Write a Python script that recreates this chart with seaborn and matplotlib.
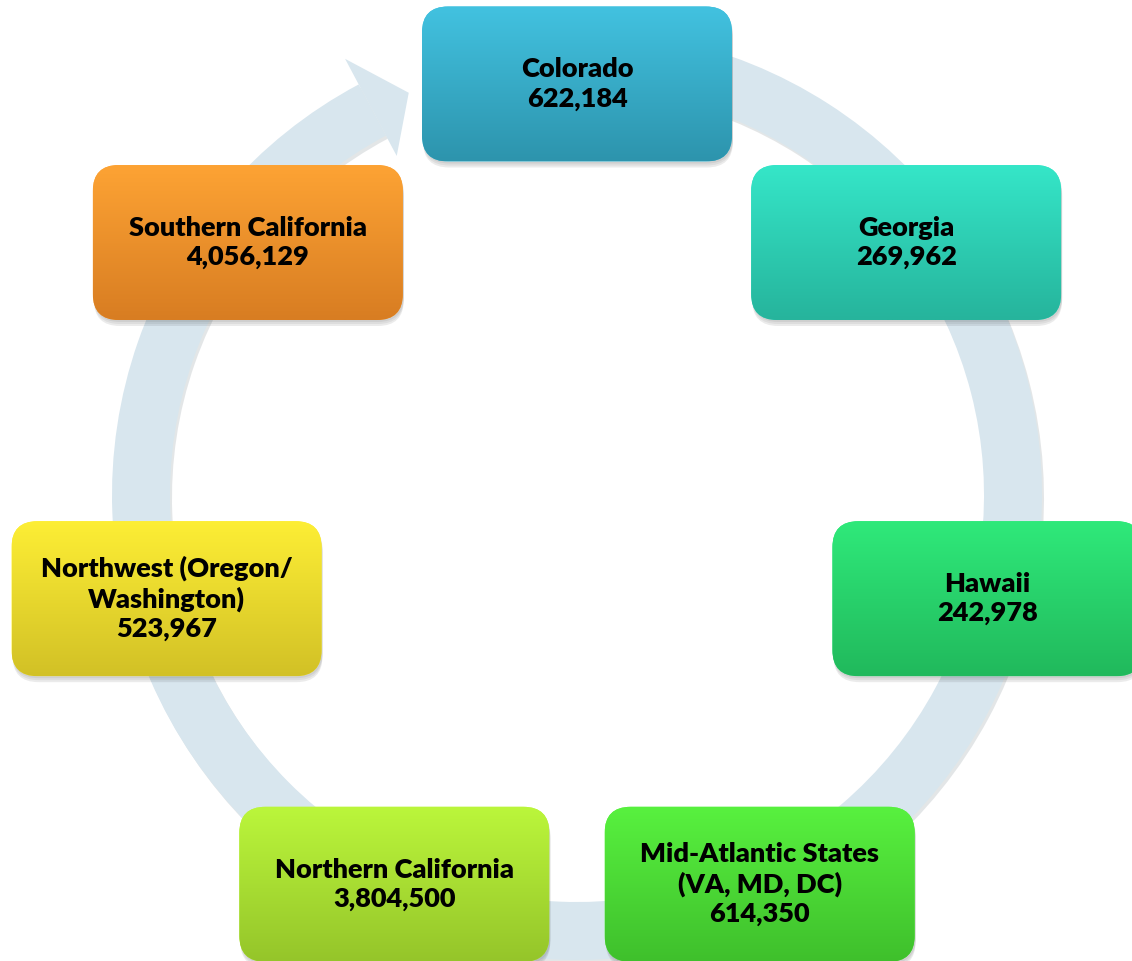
import numpy as np
import matplotlib
matplotlib.use("Agg")
import matplotlib.pyplot as plt
import seaborn as sns
from matplotlib.patches import FancyBboxPatch, Wedge, Polygon
from matplotlib.colors import LinearSegmentedColormap

# cycle nodes, clockwise starting at the top
regions = ["Colorado", "Georgia", "Hawaii", "Mid-Atlantic States\n(VA, MD, DC)",
           "Northern California", "Northwest (Oregon/\nWashington)", "Southern California"]
members = [622184, 269962, 242978, 614350, 3804500, 523967, 4056129]
top_colors = ["#42c2e0", "#35e6c8", "#2fe97a", "#58f13f", "#bbf63b", "#fdee35", "#fda334"]
bottom_colors = ["#2d94ad", "#26b49c", "#21b95c", "#3fc02c", "#95c52a", "#d2c126", "#d87d22"]

sns.set_theme(style="white")
plt.rcParams['font.family'] = ['Lato', 'DejaVu Sans']

W, H = 1132, 961
fig = plt.figure(figsize=(W / 100, H / 100), dpi=100)
ax = fig.add_axes([0, 0, 1, 1])

# background ring with arrow head
ring_c = (577, H - 495)
r_out, r_w = 465, 58
ring_col = "#d8e6ee"


def polar(r, a):
    return (ring_c[0] + r * np.cos(np.radians(a)), ring_c[1] + r * np.sin(np.radians(a)))


ax.add_patch(Wedge((ring_c[0] + 2, ring_c[1] - 3), r_out, 118, 460, width=r_w,
                   facecolor="#b0b8bd", alpha=0.35, edgecolor="none", zorder=1))
ax.add_patch(Wedge(ring_c, r_out, 118, 460, width=r_w, facecolor=ring_col, edgecolor="none", zorder=1.5))
head = [polar(494, 118), polar(436, 112.7), polar(384, 118)]
ax.add_patch(Polygon(head, closed=True, facecolor=ring_col, edgecolor="none", zorder=1.5))

# nodes
node_c = (577, H - 505)
node_r = 421
bw, bh, rs = 310, 155, 26
grad = np.linspace(0, 1, 128)[:, None]

for i, (name, val) in enumerate(zip(regions, members)):
    ang = np.radians(90 - i * 360 / 7)
    x = node_c[0] + node_r * np.cos(ang)
    y = node_c[1] + node_r * np.sin(ang)
    x0, y0 = x - bw / 2, y - bh / 2
    # soft shadow
    for k, a in enumerate([0.06, 0.06, 0.08]):
        ax.add_patch(FancyBboxPatch((x0 + 1, y0 - 2 - k * 2), bw, bh,
                                    boxstyle=f"round,pad=0,rounding_size={rs}",
                                    facecolor="black", alpha=a, edgecolor="none", zorder=2))
    box = FancyBboxPatch((x0, y0), bw, bh, boxstyle=f"round,pad=0,rounding_size={rs}",
                         facecolor=top_colors[i], edgecolor="none", zorder=3)
    ax.add_patch(box)
    cmap = LinearSegmentedColormap.from_list(f"g{i}", [bottom_colors[i], top_colors[i]])
    im = ax.imshow(grad, extent=(x0, x0 + bw, y0, y0 + bh), origin="lower", cmap=cmap,
                   aspect="auto", zorder=3.5, interpolation="bilinear")
    im.set_clip_path(box)
    ax.text(x, y, f"{name}\n{val:,}", ha="center", va="center", fontsize=19.5,
            fontweight="heavy", color="black", linespacing=1.25, zorder=4)

ax.set_xlim(0, W)
ax.set_ylim(0, H)
ax.axis("off")
fig.savefig("out.png", dpi=100, facecolor="white")
